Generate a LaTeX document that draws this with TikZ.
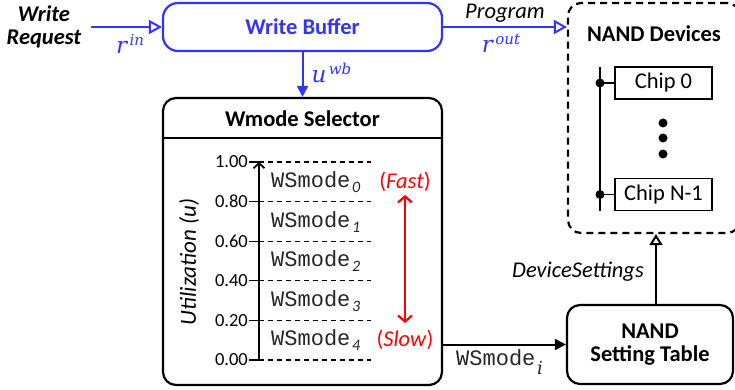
\documentclass[tikz,border=0pt]{standalone}
\usepackage{fontspec}
\setmainfont{Carlito}
\newfontfamily\wsfont{Liberation Mono}
\newfontfamily\mfont{DejaVu Serif}
\usetikzlibrary{positioning,arrows.meta}

\definecolor{wbblue}{RGB}{51,51,255}
\newcommand{\dfont}{\fontsize{22.5}{23}\selectfont}
\newcommand{\wsm}[1]{{\wsfont\fontsize{22}{24}\selectfont WSmode}\,\raisebox{-5pt}{\fontsize{16}{17}\selectfont\itshape #1}}
\newcommand{\mvar}[2]{{\mfont\itshape #1}\kern2.5pt\raisebox{8pt}{\mfont\itshape\fontsize{15}{16}\selectfont #2}}

\begin{document}
\begin{tikzpicture}[x=1pt, y=-1pt,
    wbuffer/.style={rectangle, rounded corners=15pt, draw=wbblue, line width=2.2pt, minimum width=279pt, minimum height=48pt, text=wbblue, font=\dfont\bfseries},
    selector/.style={rectangle, rounded corners=13pt, draw, line width=2.2pt, minimum width=279pt, minimum height=287pt},
    devbox/.style={rectangle, rounded corners=13pt, draw, dash pattern=on 7pt off 5pt, line width=2.2pt, minimum width=172pt, minimum height=230pt},
    settab/.style={rectangle, rounded corners=13pt, draw, line width=2.2pt, minimum width=166pt, minimum height=79pt, align=center, font=\dfont\bfseries},
    chip/.style={rectangle, draw, line width=1.8pt, minimum width=97pt, minimum height=32pt, font=\dfont},
    lbl/.style={font=\dfont},
    mathlbl/.style={text=wbblue, font=\fontsize{23}{26}\selectfont},
    ticklbl/.style={anchor=east, inner sep=1pt, font=\fontsize{18.5}{20}\selectfont},
    grid/.style={dash pattern=on 5pt off 4pt, line width=1.2pt},
    opentip/.style={-{Triangle[open, length=13pt, width=14pt]}},
    filltip/.style={-{Triangle[length=11pt, width=11pt]}}]
\useasboundingbox (0,0) rectangle (735,390);

% Write buffer
\node[lbl, align=center, font=\dfont\bfseries\itshape] (req) at (44,27) {Write\\Request};
\node[wbuffer] (wb) at (302.5,27) {Write Buffer};
\node[mathlbl] (rin) at (130,44) {\mvar{r}{in}};

% NAND devices
\node[devbox] (nand) at (654,118) {};
\node[lbl, font=\dfont\bfseries] (nandt) at (654,34) {NAND Devices};
\node[chip] (chip0) at (663.5,83) {Chip 0};
\node[chip] (chipn) at (663.5,194.5) {Chip N-1};
\coordinate (bustop) at (600,67);
\coordinate (busbot) at (600,211);
\foreach \y in {123,138,154}
  \fill (663,\y) circle (4.5pt);

% Wmode selector
\node[selector] (sel) at (302.5,241.5) {};
\node[lbl, font=\dfont\bfseries] (selt) at (302.5,119) {Wmode Selector};
\draw[line width=1.8pt] (sel.west |- 0,138) -- (sel.east |- 0,138);
\coordinate (ax0) at (259,360);
\coordinate (ax1) at (259,162);
\foreach \v [count=\i from 0] in {0.00,0.20,0.40,0.60,0.80,1.00} {
  \node[ticklbl] (t\i) at (249,360-39.6*\i) {\v};
  \draw[line width=1.2pt] (t\i.east) -- (259,360-39.6*\i);
  \draw[grid] (259,360-39.6*\i) -- (371,360-39.6*\i);
}
\foreach \i in {0,...,4}
  \node[anchor=west, inner sep=0pt, text=black!85] (ws\i) at (271,182+39.6*\i) {\wsm{\i}};
\node[lbl, rotate=90, font=\fontsize{23}{24}\selectfont\itshape] (util) at (189,262) {Utilization (\textit{u})};
\node[lbl, text=red] (fast) at (405,182) {(\textit{Fast})};
\node[lbl, text=red] (slow) at (405,340) {(\textit{Slow})};

% NAND setting table
\node[settab] (tab) at (650,344.5) {NAND\\Setting Table};

% Connections
\draw[wbblue, line width=2pt, opentip] (req.east |- wb.west) ++(6pt,0) coordinate (reqout) -- (wb.west);
\draw[wbblue, line width=2pt, opentip] (wb.east) -- (wb.east -| nand.west);
\node[lbl, font=\dfont\itshape] (prog) at (505,13) {Program};
\node[mathlbl] (rout) at (501,43) {\mvar{r}{out}};
\draw[wbblue, line width=2pt, filltip] (wb.south) -- (sel.north);
\node[mathlbl, anchor=west] (uwb) at (308,73) {\mvar{u}{wb}};
\draw[line width=1.8pt] (bustop) -- (busbot);
\fill (chip0.west -| bustop) circle (4.5pt);
\fill (chipn.west -| bustop) circle (4.5pt);
\draw[line width=1.8pt] (chip0.west -| bustop) -- (chip0.west);
\draw[line width=1.8pt] (chipn.west -| bustop) -- (chipn.west);
\draw[line width=1.8pt, -{Straight Barb[length=5pt, width=11pt]}] (ax0) -- (ax1);
\draw[red, line width=2.2pt, {Straight Barb[length=6pt, width=14pt]}-{Straight Barb[length=6pt, width=14pt]}] (405,195) -- (405,323);
\draw[line width=2pt, filltip] (sel.east |- tab.west) -- (tab.west);
\node[anchor=west, inner sep=0pt, text=black!85] (wsi) at (456,362) {{\wsfont\fontsize{22}{24}\selectfont WSmode}\,\raisebox{-9pt}{\mfont\itshape\fontsize{18}{20}\selectfont i}};
\draw[line width=2pt, -{Triangle[open, length=11pt, width=13pt]}] ([xshift=6pt]tab.north) -- ([xshift=6pt]tab.north |- nand.south);
\node[lbl, font=\dfont\itshape] (devs) at (578,272) {DeviceSettings};

\end{tikzpicture}
\end{document}
